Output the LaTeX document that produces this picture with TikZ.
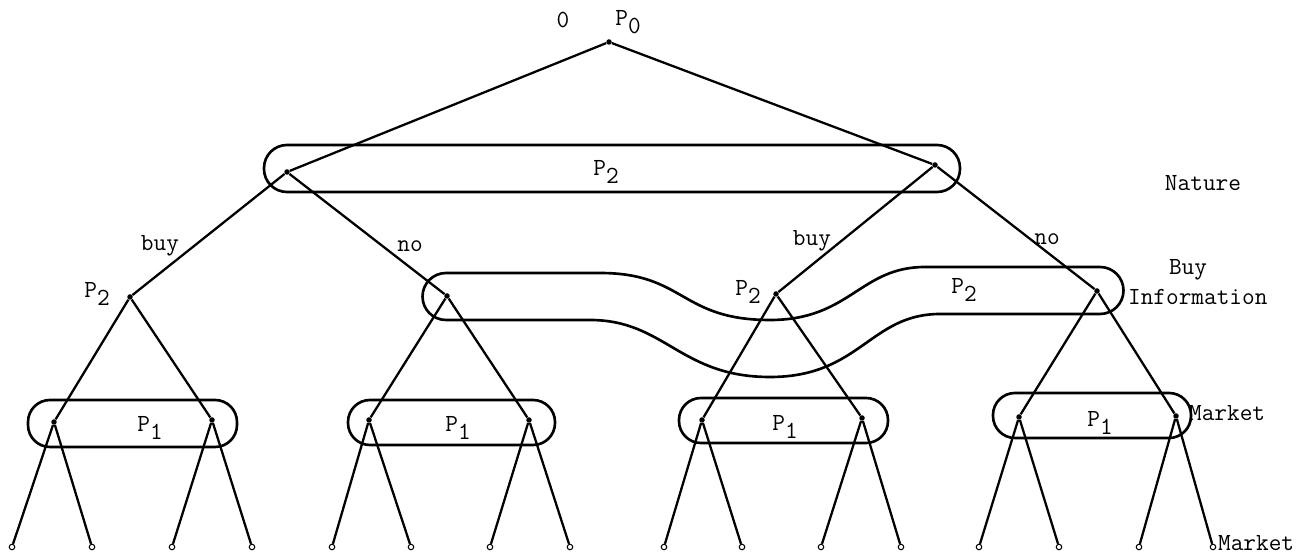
\documentclass[tikz,border=0pt]{standalone}
\usetikzlibrary{positioning}
\tikzset{
  dot/.style={circle, fill=black, inner sep=0pt, minimum size=1.1mm},
  leaf/.style={circle, draw=black, fill=white, line width=0.6pt, inner sep=0pt, minimum size=1.1mm},
  branch/.style={line width=1.3pt},
  infoset/.style={line width=1.5pt, rounded corners=4.4mm},
  lbl/.style={font=\fontsize{14}{16}\selectfont\ttfamily, inner sep=1pt},
}
\newcommand{\Pn}[1]{P\raisebox{-0.75ex}{#1}}

\begin{document}
\begin{tikzpicture}[x=0.2mm, y=-0.2mm]
  \useasboundingbox (0,0) rectangle (1297,554);

  % root and nature's move
  \node[dot] (root) at (609,42) {};
  \node[lbl] (zero) at (563,20) {0};
  \node[lbl] (p0) at (628,22) {\Pn{0}};
  \node[dot] (nl) at (287,172) {};
  \node[dot] (nr) at (935,165) {};
  \draw[branch] (root) -- (nl) (root) -- (nr);

  % buy information or not
  \node[dot] (a) at (130,297) {};
  \node[dot] (b) at (447,296) {};
  \node[dot] (c) at (776,294) {};
  \node[dot] (d) at (1097,291) {};
  \draw[branch] (nl) -- (a) (nl) -- (b) (nr) -- (c) (nr) -- (d);
  \node[lbl] (buyl) at (160,246) {buy};
  \node[lbl] (nol) at (410,246) {no};
  \node[lbl] (buyr) at (812,241) {buy};
  \node[lbl] (nor) at (1047,239) {no};

  % market moves and outcomes
  \foreach \n/\x/\y/\p/\q in {a1/54/422/12/92, a2/212/420/172/252,
      b1/369/420/332/411, b2/529/420/490/570, c1/702/420/664/742,
      c2/862/418/821/901, d1/1019/417/979/1059, d2/1176/416/1139/1213} {
    \node[dot] (\n) at (\x,\y) {};
    \node[leaf] (\n l) at (\p,547) {};
    \node[leaf] (\n r) at (\q,547) {};
    \draw[branch] (\n) -- (\n l) (\n) -- (\n r);
  }
  \draw[branch] (a) -- (a1) (a) -- (a2) (b) -- (b1) (b) -- (b2)
    (c) -- (c1) (c) -- (c2) (d) -- (d1) (d) -- (d2);

  % information sets
  \draw[infoset, rounded corners=4.6mm] (264,145) rectangle (960,192);
  \node[lbl] (p2top) at (606,172) {\Pn{2}};
  \draw[line width=1.5pt] (446,273) -- (600,273)
    .. controls (685,273) and (680,320) .. (770,320)
    .. controls (850,320) and (860,267) .. (925,267) -- (1100,267)
    arc[start angle=90, end angle=-90, radius=4.7mm]
    -- (940,314) .. controls (870,314) and (860,377) .. (770,377)
    .. controls (680,377) and (665,320) .. (590,320) -- (446,320)
    arc[start angle=270, end angle=90, radius=4.7mm] -- cycle;
  \node[lbl] (p2wave) at (964,290) {\Pn{2}};
  \node[lbl] (p2a) at (97,294) {\Pn{2}};
  \node[lbl] (p2c) at (748,292) {\Pn{2}};
  \draw[infoset] (28,400) rectangle (237,447);
  \draw[infoset] (348,400) rectangle (555,445);
  \draw[infoset] (679,398) rectangle (888,443);
  \draw[infoset] (993,393) rectangle (1191,438);
  \node[lbl] (p1a) at (150,428) {\Pn{1}};
  \node[lbl] (p1b) at (458,428) {\Pn{1}};
  \node[lbl] (p1c) at (785,427) {\Pn{1}};
  \node[lbl] (p1d) at (1100,423) {\Pn{1}};

  % stage names
  \node[lbl] (nature) at (1203,183) {Nature};
  \node[lbl] (buyinfo) at (1188,270) {Buy};
  \node[lbl, anchor=west] (info) at (1126,297) {Information};
  \node[lbl, anchor=west] (mkt1) at (1187,413) {Market};
  \node[lbl, anchor=west] (mkt2) at (1216,543) {Market};
\end{tikzpicture}
\end{document}
